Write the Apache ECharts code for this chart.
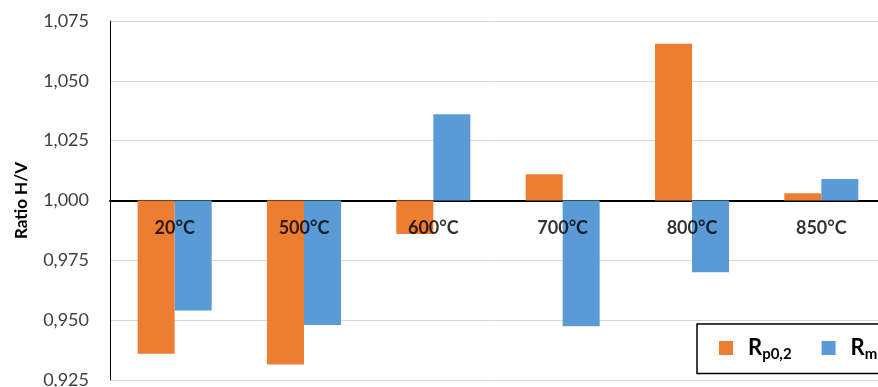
<!DOCTYPE html>
<html>
<head>
<meta charset="utf-8">
<script src="https://cdn.jsdelivr.net/npm/echarts@6/dist/echarts.min.js"></script>
<style>html,body{margin:0;padding:0;background:#fff;}#c{width:878px;height:387px;}</style>
</head>
<body>
<div id="c"></div>
<script>
const categories = ['20°C', '500°C', '600°C', '700°C', '800°C', '850°C'];
const rp02 = [0.936, 0.9315, 0.986, 1.011, 1.0655, 1.003];
const rm = [0.954, 0.948, 1.036, 0.9475, 0.970, 1.009];
const baseline = 1.0;
const yMin = 0.925, yMax = 1.075, yStep = 0.025;
const seriesNames = ['Rp0,2', 'Rm'];

const FONT = 'Lato, "Open Sans", sans-serif';
const chart = echarts.init(document.getElementById('c'), null, {renderer: 'canvas'});
const dev = arr => arr.map(v => +(v - baseline).toFixed(6));

chart.setOption({
  animation: false,
  grid: {left: 110, top: 21, width: 776, height: 359, containLabel: false, outerBoundsMode: 'none'},
  legend: {
    left: 697, top: 324, width: 300,
    orient: 'horizontal',
    data: seriesNames,
    icon: 'rect', itemWidth: 14, itemHeight: 14, itemGap: 30,
    borderColor: '#000', borderWidth: 1.5, backgroundColor: '#fff',
    padding: [13, 60, 12, 22],
    borderRadius: 0,
    formatter: name => name === 'Rp0,2' ? '{m|R}{s|p0,2}' : '{m|R}{s|m}',
    textStyle: {
      fontFamily: FONT, color: '#000',
      rich: {
        m: {fontSize: 22, fontWeight: 'bold', fontFamily: FONT, color: '#000', padding: [0, 0, 0, 10]},
        s: {fontSize: 15, fontWeight: 'bold', fontFamily: FONT, color: '#000', padding: [12, 0, 0, 0]}
      }
    }
  },
  xAxis: {
    type: 'category',
    data: categories,
    axisTick: {show: false},
    axisLine: {show: true, onZero: true, lineStyle: {color: '#000', width: 2}},
    axisLabel: {show: false},
    splitLine: {show: false}
  },
  yAxis: {
    type: 'value',
    min: yMin - baseline, max: yMax - baseline, interval: yStep,
    name: 'Ratio H/V',
    nameLocation: 'middle', nameGap: 80, nameRotate: 90,
    nameTextStyle: {fontSize: 17, fontWeight: 'bold', color: '#000', fontFamily: FONT},
    axisLine: {show: true, lineStyle: {color: '#000', width: 1}},
    axisTick: {show: false},
    axisLabel: {
      margin: 21, color: '#404040', fontSize: 18, fontFamily: FONT,
      formatter: v => (baseline + v).toFixed(3).replace('.', ',')
    },
    splitLine: {show: true, lineStyle: {color: '#d9d9d9', width: 1}}
  },
  series: [
    {name: seriesNames[0], type: 'bar', data: dev(rp02), barWidth: 37, barGap: '0%',
     itemStyle: {color: '#ED7D31'}},
    {name: seriesNames[1], type: 'bar', data: dev(rm), barWidth: 37, barGap: '0%',
     itemStyle: {color: '#5B9BD5'}},
    {name: 'categoryLabels', type: 'scatter', data: categories.map(() => 0),
     symbolSize: 0, silent: true, z: 5,
     label: {show: true, position: 'inside', offset: [0, 28],
       formatter: p => categories[p.dataIndex],
       color: '#000', fontSize: 18, fontWeight: 'bold', fontFamily: FONT}}
  ]
});
</script>
</body>
</html>
